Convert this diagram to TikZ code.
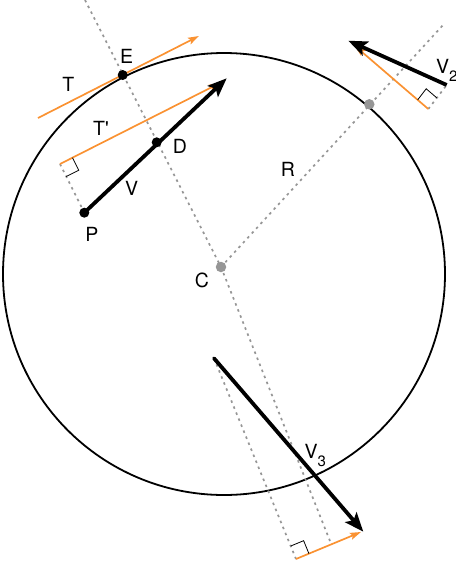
\documentclass[tikz,border=0pt]{standalone}
\usepackage{fontspec}
\setmainfont{TeX Gyre Heros}[Ligatures=TeXOff]
\usetikzlibrary{calc,arrows.meta}
\definecolor{orng}{RGB}{250,146,50}
\definecolor{dotgray}{RGB}{150,150,150}
\newcommand{\subtwo}[1]{\raisebox{-8pt}{\fontsize{15}{15}\selectfont #1}}
\begin{document}
\begin{tikzpicture}[x=1pt,y=-1pt,
  circ/.style={line width=1.8pt},
  guide/.style={draw=dotgray,line width=1.7pt,dash pattern=on 2.5pt off 4pt},
  vec/.style={line width=3.8pt,-{Stealth[length=19pt,width=15pt,inset=4pt]}},
  comp/.style={draw=orng,line width=1.7pt,-{Stealth[length=11pt,width=7pt,inset=2pt]}},
  rmark/.style={line width=0.8pt},
  bdot/.style={circle,fill=black,inner sep=0pt,minimum size=10pt},
  gdot/.style={circle,fill=dotgray,inner sep=0pt,minimum size=10.5pt},
  lbl/.style={font=\fontsize{19.5}{21}\selectfont,inner sep=0pt}]
\useasboundingbox (0,0) rectangle (456,566);
% key points
\coordinate (O) at (224,274);
\coordinate (Ctop) at (85,0);
\coordinate (Rend) at (444,24);
\coordinate (Cbot) at (330,541);
\coordinate (T1) at (38,118);
\coordinate (T2) at (199,36);
\coordinate (Tp1) at (60,164);
\coordinate (Tp2) at (220,83);
\coordinate (Vtip) at (226.7,78.3);
\coordinate (V2tail) at (446.7,85);
\coordinate (V2tip) at (348.3,40.7);
\coordinate (O2a) at (428.3,109);
\coordinate (O2b) at (355,46);
\coordinate (V3tail) at (214,358.3);
\coordinate (V3tip) at (363.3,531.7);
\coordinate (O3a) at (296,559);
\coordinate (O3b) at (361,532);
% circle
\draw[circ] (O) circle[radius=221pt];
% guide lines
\coordinate (C) at (221,267);
\coordinate (G) at (369.3,104.3);
\draw[guide] (Ctop) -- (C);
\draw[guide] (C) -- (Rend);
\draw[guide] (C) -- (Cbot);
\node[gdot] (Cdot) at (C) {};
\node[gdot] (Gdot) at (G) {};
% main vector V
\coordinate (P) at (84.3,212.7);
\draw[guide] (Tp1) -- (P);
\draw[comp] (T1) -- (T2);
\draw[comp] (Tp1) -- (Tp2);
\draw[vec] (P) -- (Vtip);
\node[bdot] (Pdot) at (P) {};
\node[bdot] (E) at (122.7,75) {};
\node[bdot] (D) at (156.7,142.3) {};
% right angle at T'
\coordinate (a1) at ($(Tp1)!14pt!(Tp2)$);
\coordinate (c1) at ($(Tp1)!14pt!(P)$);
\draw[rmark] (a1) -- ($(a1)+(c1)-(Tp1)$) -- (c1);
% V2
\draw[guide] (O2a) -- (V2tail);
\draw[comp] (O2a) -- (O2b);
\draw[vec] (V2tail) -- (V2tip);
\coordinate (a2) at ($(O2a)!14pt!(O2b)$);
\coordinate (c2) at ($(O2a)!14pt!(V2tail)$);
\draw[rmark] (a2) -- ($(a2)+(c2)-(O2a)$) -- (c2);
% V3
\draw[guide] (V3tail) -- (O3a);
\draw[comp] (O3a) -- (O3b);
\draw[vec,line cap=round] (V3tail) -- (V3tip);
\coordinate (a3) at ($(O3a)!14pt!(O3b)$);
\coordinate (c3) at ($(O3a)!14pt!(V3tail)$);
\draw[rmark] (a3) -- ($(a3)+(c3)-(O3a)$) -- (c3);
% labels
\node[lbl] (lE) at (126.7,56) {E};
\node[lbl] (lT) at (68.3,84.3) {T};
\node[lbl] (lTp) at (101,128.3) {T'};
\node[lbl] (lD) at (180,146.7) {D};
\node[lbl] (lV) at (131.7,188.3) {V};
\node[lbl] (lP) at (92,234.5) {P};
\node[lbl] (lR) at (288,169) {R};
\node[lbl] (lC) at (202,280) {C};
\node[lbl,anchor=base west] (lV2) at (436,73) {V\subtwo{2}};
\node[lbl,anchor=base west] (lV3) at (304.5,458) {V\subtwo{3}};
\end{tikzpicture}
\end{document}
